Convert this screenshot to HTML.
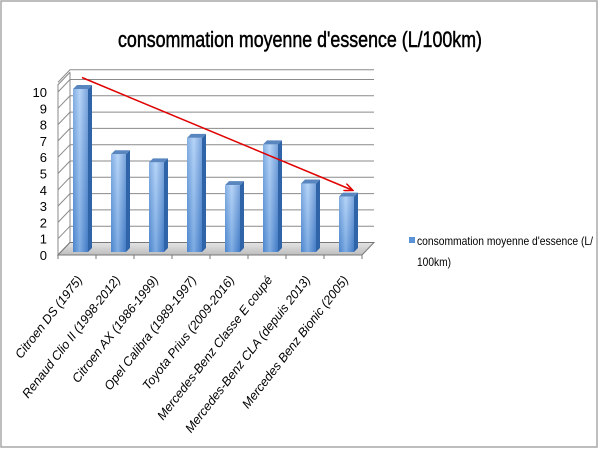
<!DOCTYPE html>
<html><head><meta charset="utf-8"><style>
html,body{margin:0;padding:0;background:#fff;}
svg{display:block;font-family:"Liberation Sans",sans-serif;}
</style></head><body>
<svg width="600" height="450" viewBox="0 0 600 450">
<defs>
<linearGradient id="gf" x1="0" y1="0" x2="1" y2="0">
<stop offset="0" stop-color="#5b93d8"/><stop offset="0.45" stop-color="#9ec6f5"/><stop offset="1" stop-color="#4f86cf"/>
</linearGradient>
<linearGradient id="gv" x1="0" y1="0" x2="0" y2="1">
<stop offset="0" stop-color="#ffffff" stop-opacity="0.25"/><stop offset="1" stop-color="#1c5aa8" stop-opacity="0.25"/>
</linearGradient>
<linearGradient id="floor" x1="0" y1="0" x2="0" y2="1">
<stop offset="0" stop-color="#e4e4e4"/><stop offset="1" stop-color="#bdbdbd"/>
</linearGradient>
<marker id="ah" markerWidth="10" markerHeight="8" refX="8" refY="4" orient="auto" markerUnits="userSpaceOnUse">
<path d="M0,0 L9,4 L0,8" fill="none" stroke="#e00000" stroke-width="1.5"/>
</marker>
</defs>
<rect x="1" y="1" width="596" height="446" fill="#fff" stroke="#a8a8a8" stroke-width="1.5"/>
<text x="300" y="47" text-anchor="middle" font-size="22" textLength="364" lengthAdjust="spacingAndGlyphs" fill="#000" stroke="#000" stroke-width="0.5">consommation moyenne d'essence (L/100km)</text>
<g id="plot"></g>
<g>
<rect x="409" y="237" width="6" height="6" fill="#5b93d8"/>
<text x="417" y="245" font-size="12" textLength="176" lengthAdjust="spacingAndGlyphs">consommation moyenne d'essence (L/</text>
<text x="417" y="266" font-size="12" textLength="34" lengthAdjust="spacingAndGlyphs">100km)</text>
</g>
<script>
const categories=["Citroen DS (1975)","Renaud Clio II (1998-2012)","Citroen AX (1986-1999)","Opel Calibra (1989-1997)","Toyota Prius (2009-2016)","Mercedes-Benz Classe E coupé","Mercedes-Benz CLA (depuis 2013)","Mercedes Benz Bionic (2005)"];
const values=[10.0,6.0,5.5,7.0,4.1,6.6,4.2,3.4];
const yTicks=[0,1,2,3,4,5,6,7,8,9,10];
const NS="http://www.w3.org/2000/svg";
const g=document.getElementById('plot');
const X0=58,X1=362,Y0=255,U=16.3,DX=12,DY=-12.5,YMAX=10.2;
const bw=(X1-X0)/categories.length;
function yF(v){return Y0-v*U;}
function mk(t,a){const e=document.createElementNS(NS,t);for(const k in a)e.setAttribute(k,a[k]);g.appendChild(e);return e;}
let wall=mk('path',{d:`M${X0},${Y0} L${X0+DX},${Y0+DY} L${X0+DX},${yF(YMAX)+DY-4} M${X0},${Y0} L${X0},${yF(YMAX)-4} L${X0+DX},${yF(YMAX)+DY-4}`,fill:'none',stroke:'#888','stroke-width':1});


for(const t of yTicks.concat([10.6])){
  const y=yF(t);
  let l=mk('path',{d:`M${X0},${y} L${X0+DX},${y+DY} L${X1+DX},${y+DY}`,fill:'none',stroke:'#8a8a8a','stroke-width':1});
  
  
}
for(const t of yTicks){
  let tx=mk('text',{x:47,y:yF(t)+5,'text-anchor':'end','font-size':13,fill:'#000'});
  tx.textContent=t;
  
  
}
let fl=mk('path',{d:`M${X0},${Y0} L${X1},${Y0} L${X1+DX},${Y0+DY} L${X0+DX},${Y0+DY} Z`,fill:'url(#floor)',stroke:'#777','stroke-width':1});


let ax=mk('line',{x1:X0,y1:Y0,x2:X1,y2:Y0,stroke:'#777','stroke-width':1});


for(let i=0;i<=categories.length;i++){
  let tk=mk('line',{x1:X0+i*bw,y1:Y0,x2:X0+i*bw,y2:Y0+4,stroke:'#777'});
  
  
}
values.forEach((v,i)=>{
  const bx=X0+i*bw+15,w=15,d=4,base=Y0-3,top=base-v*U;
  const grp=mk('g',{});
  
  
  const side=document.createElementNS(NS,'path');
  side.setAttribute('d',`M${bx+w},${base} L${bx+w+d},${base-d} L${bx+w+d},${top-d} L${bx+w},${top} Z`);
  side.setAttribute('fill','#2f64a8');grp.appendChild(side);
  const tp=document.createElementNS(NS,'path');
  tp.setAttribute('d',`M${bx},${top} L${bx+d},${top-d} L${bx+w+d},${top-d} L${bx+w},${top} Z`);
  tp.setAttribute('fill','#5a86c0');grp.appendChild(tp);
  const fr=document.createElementNS(NS,'rect');
  fr.setAttribute('x',bx);fr.setAttribute('y',top);fr.setAttribute('width',w);fr.setAttribute('height',base-top);
  fr.setAttribute('fill','url(#gf)');grp.appendChild(fr);
  const sh=document.createElementNS(NS,'rect');
  sh.setAttribute('x',bx);sh.setAttribute('y',top);sh.setAttribute('width',w);sh.setAttribute('height',base-top);
  sh.setAttribute('fill','url(#gv)');grp.appendChild(sh);
});
categories.forEach((c,i)=>{
  const cx=X0+(i+0.5)*bw+6,cy=Y0+25;
  let t=mk('text',{x:cx,y:cy,'text-anchor':'end','font-size':12.5,'font-style':'italic',transform:`rotate(-52 ${cx} ${cy})`});
  t.textContent=c;
  
  
});
let ar=mk('line',{x1:82,y1:77.5,x2:352,y2:190,stroke:'#e00000','stroke-width':1.5,'marker-end':'url(#ah)'});


</script>
</svg>
</body></html>
